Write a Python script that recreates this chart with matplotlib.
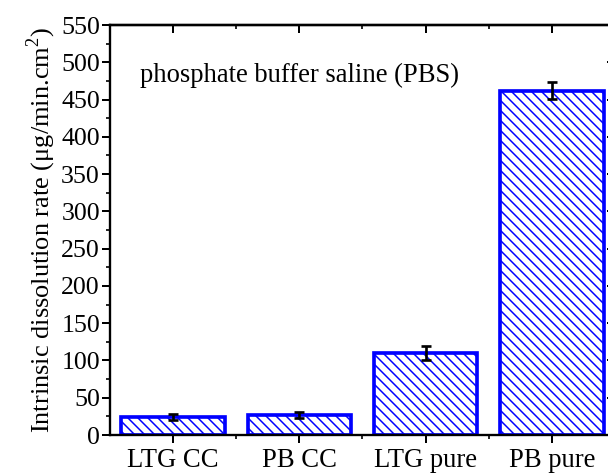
import matplotlib
matplotlib.use("Agg")
import matplotlib.pyplot as plt
from matplotlib.ticker import MultipleLocator, FixedLocator, NullFormatter

categories = ["LTG CC", "PB CC", "LTG pure", "PB pure"]
rates = [24.6, 26.8, 109.7, 462.0]
errors = [4.0, 3.8, 9.4, 11.0]

plt.rcParams["font.family"] = ["Liberation Serif", "DejaVu Serif"]
plt.rcParams["mathtext.fontset"] = "custom"
plt.rcParams["mathtext.rm"] = "Liberation Serif"
plt.rcParams["hatch.linewidth"] = 0.9
plt.rcParams["hatch.color"] = "#0000FF"

dpi = 120
fig = plt.figure(figsize=(608 / dpi, 474 / dpi), dpi=dpi)
ax = fig.add_axes([110 / 608, 39 / 474, 505 / 608, 410 / 474])

x = list(range(1, len(categories) + 1))
ax.bar(x, rates, width=0.82, facecolor="white", edgecolor="#0000FF",
       linewidth=2.2, hatch="\\\\\\\\", zorder=2)
ax.errorbar(x, rates, yerr=errors, fmt="none", ecolor="black",
            elinewidth=1.6, capsize=3, capthick=1.6, zorder=3)

ax.set_xlim(0.5, 4.5)
ax.set_ylim(0, 550)
ax.set_xticks(x)
ax.set_xticklabels(categories, fontsize=16)
ax.xaxis.set_minor_locator(FixedLocator([1.5, 2.5, 3.5]))
ax.xaxis.set_minor_formatter(NullFormatter())
ax.yaxis.set_major_locator(MultipleLocator(50))
ax.yaxis.set_minor_locator(MultipleLocator(25))
ax.tick_params(axis="y", which="major", labelsize=15.5, length=5, width=1.2, pad=1)
ax.tick_params(axis="y", which="minor", length=2.5, width=1.0)
ax.tick_params(axis="x", which="major", length=5, width=1.2, pad=3)
ax.tick_params(axis="x", which="minor", length=2.5, width=1.0)
ax.tick_params(top=False, right=False, which="both", direction="out")

for side in ["left", "bottom", "top", "right"]:
    ax.spines[side].set_linewidth(1.4)

# top and right frame carry inward ticks without labels
ax_top = ax.secondary_xaxis("top")
ax_top.set_xticks(x)
ax_top.set_xticklabels([])
ax_top.xaxis.set_minor_locator(FixedLocator([1.5, 2.5, 3.5]))
ax_top.tick_params(which="major", direction="in", length=5, width=1.2)
ax_top.tick_params(which="minor", direction="in", length=2.5, width=1.0)
ax_top.spines["top"].set_linewidth(1.4)

ax_right = ax.secondary_yaxis("right")
ax_right.yaxis.set_major_locator(MultipleLocator(50))
ax_right.yaxis.set_minor_locator(MultipleLocator(25))
ax_right.set_yticklabels([])
ax_right.tick_params(which="major", direction="in", length=5, width=1.2)
ax_right.tick_params(which="minor", direction="in", length=2.5, width=1.0)

ax.set_ylabel("Intrinsic dissolution rate (\u03bcg/min.cm$^2$)", fontsize=15.8, labelpad=2)
ax.text(0.74, 483, "phosphate buffer saline (PBS)", fontsize=16,
        va="center", ha="left")

fig.savefig("out.png", dpi=dpi)
